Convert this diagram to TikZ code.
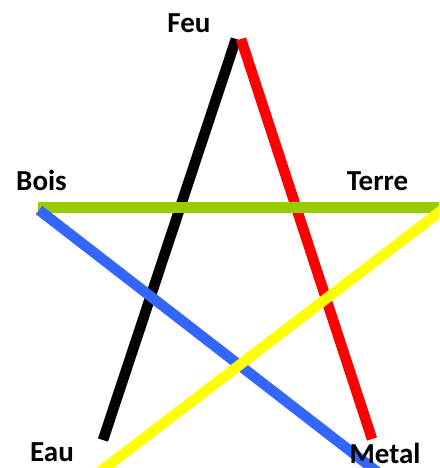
\documentclass[tikz,border=0pt]{standalone}
\usepackage{fontspec}
\setmainfont{Carlito}
\definecolor{cgreen}{HTML}{99CC00}
\definecolor{cblue}{HTML}{3366FF}
\definecolor{cyellow}{HTML}{FFFF00}
\definecolor{cred}{HTML}{FF0000}
\begin{document}
\begin{tikzpicture}[x=1pt,y=-1pt,
  seg/.style={line width=10.5pt,line cap=butt},
  lbl/.style={font=\fontsize{29}{33}\selectfont\bfseries,inner sep=0pt,anchor=base}]
\useasboundingbox (0,0) rectangle (439,468);
\clip (0,0) rectangle (439,468);
\coordinate (top) at (236,39);
\coordinate (topr) at (241,39);
\coordinate (bl) at (103,440);
\coordinate (br) at (372,439);
\coordinate (left) at (38,207.5);
\coordinate (right) at (445,207.5);
\coordinate (bleft) at (39,210);
\coordinate (bend) at (380,474);
\coordinate (yright) at (446,207);
\coordinate (yend) at (97,474);
\draw[seg,black] (bl) -- (top);
\draw[seg,cred] (topr) -- (br);
\draw[seg,cgreen] (left) -- (right);
\draw[seg,cblue] (bleft) -- (bend);
\draw[seg,cyellow] (yright) -- (yend);
\node[lbl] (feu) at (189,33) {Feu};
\node[lbl] (bois) at (41.5,190) {Bois};
\node[lbl] (terre) at (377.5,190) {Terre};
\node[lbl] (eau) at (52,461) {Eau};
\node[lbl] (metal) at (385,463) {Metal};
\end{tikzpicture}
\end{document}
